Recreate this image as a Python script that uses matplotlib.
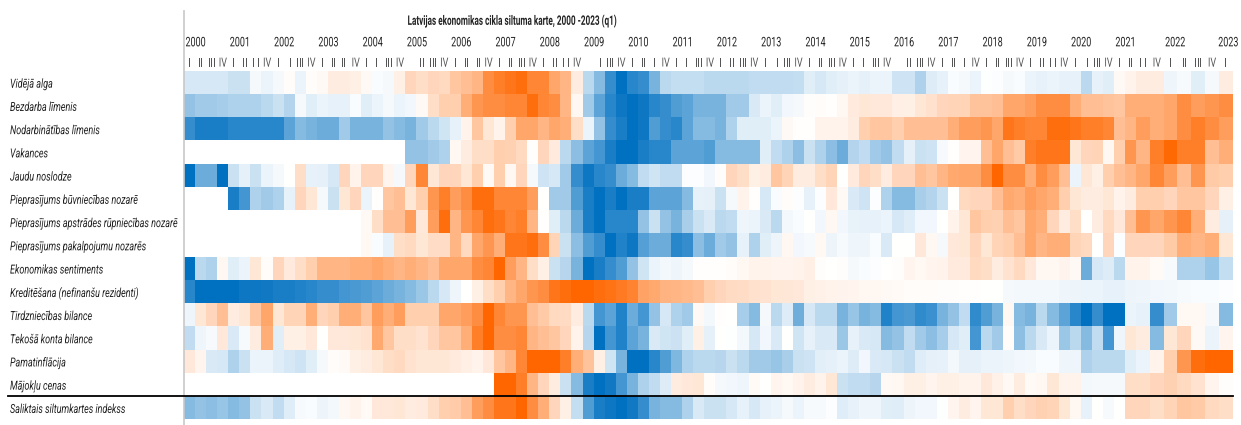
import numpy as np
import matplotlib
matplotlib.use("Agg")
import matplotlib.pyplot as plt
from matplotlib.colors import LinearSegmentedColormap
from matplotlib.patheffects import AbstractPathEffect
from matplotlib.transforms import Affine2D

plt.rcParams['font.family'] = ['Roboto', 'DejaVu Sans']

nan = np.nan

title = "Latvijas ekonomikas cikla siltuma karte, 2000 -2023 (q1)"
years = list(range(2000, 2024))
quarters = ["I", "II", "III", "IV"]

labels = ["Vidējā alga", "Bezdarba līmenis", "Nodarbinātības līmenis", "Vakances",
          "Jaudu noslodze", "Pieprasījums būvniecības nozarē",
          "Pieprasījums apstrādes rūpniecības nozarē", "Pieprasījums pakalpojumu nozarēs",
          "Ekonomikas sentiments", "Kreditēšana (nefinanšu rezidenti)", "Tirdzniecības bilance",
          "Tekošā konta bilance", "Pamatinflācija", "Mājokļu cenas", "Saliktais siltumkartes indekss"]

# values, -10 (blue) .. 10 (orange), one line = 10 quarters
alga = [-2,-2,-2,-2,-2.5,-2.5,-0.5,-1,-0.5,0.3,
        -1,0.3,0.5,1.5,1.5,1.2,0.5,-0.3,-0.5,1.2,
        3,2.5,3,2.8,4,4.5,5,7.5,8.5,9,
        9.5,8,8,6,5,1.5,-3,-5,-8,-10,
        -8.5,-8,-5.5,-3,-2.7,-2.7,-2.7,-3,-3,-3,
        -3,-2.8,-2.8,-2.8,-2.8,-2.7,-1.5,-2,-1.5,-1.3,
        -1,-1.3,-1,-1,-2.3,-2.3,-3.5,-1.7,-1.2,-0.3,
        -0.5,-1,-0.1,-0.2,-0.5,-0.3,-1,-1.2,-1,-1.2,
        -1.2,-3,-1.2,-1.5,0.5,1,1.5,1.5,-0.8,-0.4,
        -1.5,-0.5,1.5]
bezdarbs = [-4.5,-4,-4,-3.8,-3.5,-3.5,-3.5,-3,-2.5,-3.3,
            -0.5,-1.5,-1,-1.2,-1.2,-0.3,-1.5,-1,-0.5,-1,
            -0.7,0.5,2.5,3.5,3.5,5.5,7,7.5,7.5,8,
            8,9.5,8,7.5,5,0.7,-4,-6.5,-8.5,-9.5,
            -10,-9.5,-8.5,-8,-7,-6.5,-5.5,-5.5,-5.5,-4,
            -4,-1.8,-1,-1.5,-0.7,-0.5,0.2,0.3,0.1,0.7,
            1.7,2,1.8,1.8,1.3,1.2,2,2.3,3,3.2,
            3.2,4.2,4.2,4.5,6,6,6.5,7.5,7.5,7.5,
            5.5,4.5,4.5,4.2,4,5.5,5.5,5.5,6,7.5,
            6.5,7,7.5]
nodarbin = [-8,-9,-9,-9,-8.5,-8.5,-8.5,-8.5,-8.5,-6.5,
            -5,-5.5,-6,-6,-4,-5.5,-5.5,-5.5,-4.5,-5,
            -5.5,-4,-3,-2.2,-1.2,1,4,2,1,3.5,
            6,6,5,6,5.5,2.5,-1,-4.5,-8,-9,
            -10,-9.5,-7,-8,-8.5,-6.5,-5,-5,-5.5,-3.5,
            -1.5,-1.5,-1.5,-1,0.5,0.1,0.1,1,1,1,
            1.5,3.5,4,4,3.5,4.5,4.5,4.5,4.5,5.5,
            6.5,6.5,7,6,9,8.5,8,8,9.5,9.5,
            9,8.5,8.5,8,4.5,5,6.5,5.5,6,7.5,
            8.5,7.5,6.5]
vakances = [nan,nan,nan,nan,nan,nan,nan,nan,nan,nan,
            nan,nan,nan,nan,nan,nan,nan,nan,nan,nan,
            -4.5,-4.5,-4,-3.5,0.7,1.5,2.5,2.5,3.5,3.3,
            2.8,0.1,3,1.7,-3,-4.8,-6.5,-7.5,-9,-10,
            -10,-9,-8.5,-8.5,-6.5,-6.5,-6.5,-7,-5,-5,
            -5,-5,-1.5,-2.8,-3.5,-4.8,-2.5,-3.5,-4.8,-6,
            -3.3,-2.8,-4,-4.5,-2.8,-1.3,-2.5,-2.3,-0.4,0.1,
            0.8,0.8,4.5,6,4.5,3.8,8.5,9,9,9,
            2,3,3.2,0.7,3.5,7,5,8.5,9.8,8.5,
            8.5,4.5,5.5]
noslodze = [-10,-6,-6,-10,-2.5,-1.3,-2.5,-1,-0.5,0,
            2.5,-1.2,-1.3,-2,3,1,3,3,0.8,-0.5,
            3,8,2,3,3,2,3.5,0.5,3.5,0.7,
            3,-0.5,-2.3,-2,-4,-8,-9.5,-8.5,-8,-6,
            -5,-2.8,-2.2,-2.8,-2.8,-0.2,-0.2,-0.7,0.2,3,
            2.5,1.2,1.5,4,3.2,1.5,1.5,2.5,3.2,0,
            1.7,3,2.5,1.5,3,3,4.5,4,5,5.8,
            6,6,7.5,10,7.5,7.5,5.5,7.5,6.5,4.5,
            -1,2,1.2,3.5,4.5,5,6,8,6.5,4.5,
            7,3.8,3.5]
buvn = [nan,nan,nan,nan,-9,-7.5,-3.5,-4,-3.5,-1.2,
        3,2,-0.5,-2.5,2,3,-1,0.1,4,4.5,
        2,3.5,7,8.5,6.5,7.5,9.5,9.5,8,8,
        8,6.5,0,-4,-4,-7,-9,-10,-9,-10,
        -9,-9,-6.5,-6.5,-6.5,-5,-1.2,-1.3,-2.5,-0.5,
        1,0.1,-2,-0.3,0.3,-0.2,-1.2,-0.2,1.8,0.5,
        -1.8,-2.3,-0.2,-3.5,-5,-5,-3.7,-3.3,-2.5,0,
        2.8,3,3,4.5,5.8,5.5,6.5,6,5.5,3.5,
        2,1.5,1.5,2,1,1.5,3.5,3.5,3,4,
        4,3,1.2]
apstr = [nan,nan,nan,nan,nan,nan,nan,nan,nan,nan,
         nan,nan,nan,nan,nan,nan,0.5,2.5,4.5,4.5,
         6.5,1.8,6.5,9.5,5,7,8,9.5,9,8,
         8.5,5,0.1,-1.5,-3,-6,-9,-10,-8.5,-8.5,
         -8.5,-4.5,-2.5,-4.5,-5.5,-3.7,-2.5,-1.8,-3,-2.8,
         -0.8,-1,-1.8,-3,-0.6,-0.3,0,-0.7,0.7,-0.7,
         -1.1,-1.2,-1.2,-1,-2,-1.6,-0.7,-0.7,0,1,
         2,4,3.5,3.3,4.5,4,6,5.5,3,1.5,
         2.5,0,1.5,2.8,1.8,4.5,7,6,7,8,
         5.5,1.5,-1.3]
pakalp = [nan,nan,nan,nan,nan,nan,nan,nan,nan,nan,
          nan,nan,nan,nan,nan,nan,0.6,-0.3,-1.2,2.5,
          2.8,2,2.6,2.6,5,2.8,6,7,5.5,9,
          9,9.5,7.5,3.2,-2.5,-4.8,-7,-8,-10,-8.8,
          -9.5,-6.8,-6,-6,-8.5,-8,-4.8,-6,-4,-4.5,
          -1.2,-3.5,-1.5,-0.9,0.7,-0.7,-0.4,0.6,-0.9,-0.4,
          -0.8,-0.8,-0.3,-1.8,0,0,1.8,0.7,-0.5,1.8,
          2,3,2,3.2,3.5,4.5,6,5,5.5,5.5,
          3.2,2.8,0,3,-0.2,3,3,3,3.8,5.5,
          5,5.5,2]
sentim = [-10,-3,-3.5,0.7,-1.5,-1,2,0.3,3,1.7,
          2.5,3.5,5,5,5,5.5,5.5,6,5.5,5,
          5.5,5,4.5,6,6,6,7.5,8,10,6.5,
          5,2.5,1.2,-2.5,-3.2,-5.5,-10,-9,-8,-7,
          -4.5,-2.2,-1,-0.6,-0.8,-0.5,0.1,0.1,0.1,0.3,
          0.7,1,1,0.8,0.8,1,1.3,0.2,0,0.2,
          -0.5,-0.3,-0.2,0,0.2,0.8,0.6,0.8,1,1.7,
          1.7,2.8,2.5,1.5,2.2,2.8,1.8,0.7,0.7,0.9,
          0.5,-6,-2,-1.7,-3,1,1,0.4,-0.4,-3.5,
          -3.5,-4.3,-2.7]
kredit = [-8.5,-10,-10,-10,-10,-9.5,-9.5,-9.3,-9,-9,
          -8.8,-8.5,-8,-8,-7.5,-7.2,-7,-6.5,-6,-5.5,
          -5,-4.2,-3,-2,-0.8,0,1.2,2.5,3.5,5,
          6,7,7.5,9,9.5,10,10,9.5,9.2,8.7,
          8.2,6.2,5.8,5.2,5,4.8,4.5,3.5,3,2.7,
          2.6,2.3,2.2,2,1.9,1.8,1.2,1.1,1,0.9,
          0.8,0.7,0.7,0.5,0.4,0.3,0.3,0.3,0.2,0.2,
          0.1,0.1,0,0,-0.5,-0.6,-0.6,-0.6,-0.6,-0.8,
          -0.9,-1,-1,-1.2,-1.2,-0.9,-0.8,-0.7,-0.6,-0.4,
          -0.3,-0.3,-0.2]
tirdzn = [-0.8,2,3,4.5,1.5,2,4,6,2,3.2,
          3.2,5.5,3,3.5,5.5,5.5,4,6.5,5.5,6.5,
          3.5,3.5,3.5,6,6,6.5,7.5,10,8,7,
          7,4.5,3.8,2.8,2.7,1.5,-3,-7.5,-6.5,-8.8,
          -6,-7.5,-4.5,-2,-3.5,-4,0.5,-0.6,0.1,0,
          -3.8,-5,-0.5,-3,-1.7,-5.8,-2,-3,-3,-5.5,
          -4.3,-5.5,-5,-8.8,-7.5,-7.2,-8.2,-7.8,-5.5,-4.5,
          -2.8,-8.2,-7,-5.5,0.7,-5,-5.5,-3,-5,-6.5,
          -8.5,-10,-8,-10,-10,-1,-1.2,-8,-4,0.6,
          0.6,-0.5,-5]
konts = [-2.8,-0.8,-0.4,1.8,-1.8,-0.4,1.5,5.5,-1.5,1.2,
         1.2,1.8,0,1.8,1.8,2,2.2,5.8,4,2.5,
         2.5,2.2,3,4,4,5.5,8.5,10,7.5,7.5,
         8,5,4.5,4,3,1,-3.2,-10,-7.5,-8.8,
         -6.5,-5.5,-1.8,-2.2,-2.4,-1.5,1.2,-1.3,0,-0.1,
         -0.6,-2,-0.7,-1.8,0,-2.2,-1.2,-1.8,-1.8,-4.2,
         -1.2,-1.8,-2,-5,-4.5,-2.8,-4,-4.8,-3.8,-2,
         -1.5,-7.5,-3,-4,0.3,-4.7,-3,-1.8,-1,-4.2,
         -3,-5,-2.8,-7.5,-0.8,2,1.5,-5,2,3,
         0.5,-1,0.8]
inflacija = [1.8,0.8,-1.8,-2,-3.5,-2.5,-1,-1,-1.6,-2,
             -2.3,-1.5,-0.5,0.3,0.4,1.2,1.5,2,2.5,2.8,
             2.2,2,2,2,1.7,1.3,1,1.8,4,5,
             8,10,10,10,8.5,5.5,4.2,1.2,-2.2,-5.5,
             -10,-10,-8.5,-7,-5.3,-3.5,-3,-3,-3.2,-2.5,
             -3,-4,-4,-4.3,-3.7,-2.5,-2.3,-1.4,-1.3,-1,
             -1.7,-0.7,-1.8,-2,-2.5,-2.8,-1.6,-1.3,-1.2,-0.6,
             -1.3,-1.3,-1,-1,-0.8,-0.7,-0.6,-0.3,-0.3,-0.8,
             -0.8,-3.5,-3,-3,-3,-1.5,-1,1,3.5,7,
             9.5,10,10]
majokli = [nan,nan,nan,nan,nan,nan,nan,nan,nan,nan,
           nan,nan,nan,nan,nan,nan,nan,nan,nan,nan,
           nan,nan,nan,nan,nan,nan,nan,nan,10,10,
           8.5,5,3,1.5,-2.5,-5,-9,-10,-9.3,-7.5,
           -5.5,-3.5,-2.8,-1.7,1.5,1.8,2,0.3,-0.5,-0.7,
           -0.8,0.4,0,0.8,0.6,1,1.5,1,2,-2.5,
           -2.8,-2.8,-3.2,0.5,0.7,1.2,1.2,0.8,1.2,1.2,
           1,1,1.8,1.1,0.6,1.5,0.4,0.7,2,1,
           1,-0.6,-0.5,-0.5,-0.5,2.5,2.5,3,3.3,2.8,
           2.2,0.8,0.2]
indekss = [-5,-4.5,-4.8,-4.3,-5,-4.5,-2.5,-1.8,-2.8,-1.6,
           -0.4,-0.3,-0.9,-0.6,0.7,1,0.4,1.8,1.8,2,
           1.5,1.7,2.5,3.5,3.7,4.5,6.5,7.5,9,9,
           10,7.5,5.5,3,1.2,-2.7,-7,-9,-9.5,-10,
           -9.3,-8,-5.5,-5,-5,-3.5,-1.8,-2.5,-2.5,-2,
           -1.2,-2,-1.2,-1,-0.5,-1,-0.4,-0.4,-0.2,-1.6,
           -1.2,-0.8,-0.8,-1.5,-1.6,-0.9,-0.7,-0.7,-0.1,0.8,
           1.5,0.8,2,2,3.5,2.5,3,3.3,3.2,2,
           0.7,-1.2,0,-0.4,0,3,3,2.5,3.2,4,
           3.8,2.8,2.5]

rows = [alga, bezdarbs, nodarbin, vakances, noslodze, buvn, apstr, pakalp,
        sentim, kredit, tirdzn, konts, inflacija, majokli, indekss]
Z = np.array(rows, dtype=float)


class Squeeze(AbstractPathEffect):
    """ Narrow the glyphs horizontally, no condensed font is installed """
    def __init__(self, sx, anchor="left"):
        super().__init__()
        self.sx = sx
        self.anchor = anchor

    def draw_path(self, renderer, gc, tpath, affine, rgbFace=None):
        ext = tpath.get_extents()
        cx = {"left": 0.0, "center": (ext.x0 + ext.x1) / 2, "right": ext.x1}[self.anchor]
        squeeze = Affine2D().translate(-cx, 0).scale(self.sx, 1).translate(cx, 0)
        renderer.draw_path(gc, tpath, squeeze + affine, rgbFace)


# pale cells are a little paler than a straight blend
blue, orange = np.array([0, 112, 192]) / 255, np.array([255, 102, 0]) / 255
white = np.ones(3)
cmap = LinearSegmentedColormap.from_list("heat", [
    (0.0, blue),
    (0.4, white + (blue - white) * 0.16),
    (0.5, white),
    (0.6, white + (orange - white) * 0.16),
    (1.0, orange)])
cmap.set_bad("white")

# the last columns in the original are a bit wider
widths = np.r_[np.full(86, 11.07), np.full(7, 13.8)]
xe = np.r_[0, np.cumsum(widths)]
ye = np.arange(Z.shape[0] + 1)
xc = (xe[:-1] + xe[1:]) / 2

W, H = 1241, 425
fig = plt.figure(figsize=(W / 100, H / 100), dpi=100)
ax = fig.add_axes([184 / W, (H - 419.2) / H, (xe[-1]) / W, 348.5 / H])
ax.pcolormesh(xe, ye, np.ma.masked_invalid(Z), cmap=cmap, vmin=-10, vmax=10)
ax.set_xlim(xe[0], xe[-1])
ax.set_ylim(Z.shape[0], 0)
ax.axis("off")

for i, lab in enumerate(labels):
    ax.text(-174, i + 0.58, lab, fontsize=9, style="italic", color="#222222", va="center", ha="left",
            path_effects=[Squeeze(0.72)])

for i in range(Z.shape[1]):
    ax.text(xc[i], -0.33, quarters[i % 4], fontsize=9, color="#555555", ha="center", va="center",
            path_effects=[Squeeze(0.72, "center")])
for k, y in enumerate(years[:-1]):
    ax.text(xe[k * 4] + 1.5, -1.2, str(y), fontsize=9.5, color="#222222", ha="left", va="center",
            path_effects=[Squeeze(0.68)])
ax.text(xe[-1] + 6, -1.2, str(years[-1]), fontsize=9.5, color="#222222", ha="right", va="center",
        path_effects=[Squeeze(0.68, "right")])

ax.text(330, -2.13, title, fontsize=9.5, fontweight="bold", color="#222222", ha="center", va="center",
        path_effects=[Squeeze(0.62, "center")])

# gray rule left of the cells, black rule above the composite index
ax.plot([0, 0], [15.25, -2.57], color="#c8c8c8", lw=1.2, clip_on=False)
ax.plot([-176, xe[-1]], [14, 14], color="black", lw=1.3, clip_on=False)

fig.savefig("out.png", dpi=100)
